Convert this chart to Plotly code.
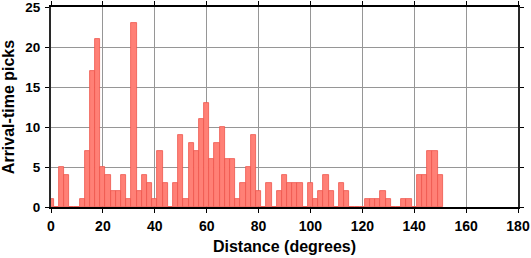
import plotly.graph_objects as go

# Bin centres (degrees, 2-degree bins) and pick counts
centers = list(range(0, 152, 2))
counts = [1, 0, 5, 4, 0, 0, 1, 7, 17, 21,
          5, 4, 2, 2, 4, 1, 23, 2, 4, 3,
          1, 7, 3, 0, 3, 9, 1, 8, 7, 11,
          13, 6, 8, 10, 6, 6, 1, 3, 5, 9,
          2, 0, 3, 0, 2, 4, 3, 3, 3, 0,
          3, 1, 2, 4, 2, 0, 3, 2, 0, 0,
          0, 1, 1, 1, 2, 1, 0, 0, 1, 1,
          0, 4, 4, 7, 7, 4]
x_ticks = [0, 20, 40, 60, 80, 100, 120, 140, 160, 180]
y_ticks = [0, 5, 10, 15, 20, 25]

fig = go.Figure()
fig.add_trace(go.Bar(
    x=centers, y=counts, width=2,
    marker=dict(color="rgb(255,128,118)", line=dict(color="rgb(238,85,75)", width=0.8)),
    showlegend=False,
))

font_bold = "Liberation Sans"
fig.update_layout(
    width=531, height=258,
    margin=dict(l=51, r=13, t=7, b=51),
    paper_bgcolor="white", plot_bgcolor="white",
    bargap=0,
    font=dict(family=font_bold, color="black"),
    xaxis=dict(
        range=[0, 180], tickvals=x_ticks, automargin=False,
        ticklabeloverflow="allow",
        showgrid=True, gridcolor="rgb(150,150,150)", gridwidth=1,
        showline=True, linecolor="black", linewidth=1.5, mirror="allticks",
        ticks="outside", ticklen=4, tickcolor="black", tickwidth=1,
        ticklabelstandoff=1,
        tickfont=dict(size=14, family=font_bold, weight="bold"),
        title=dict(text="<b>Distance (degrees)</b>", font=dict(size=16), standoff=8),
        zeroline=False,
    ),
    yaxis=dict(
        range=[0, 25], tickvals=y_ticks, automargin=False,
        ticklabeloverflow="allow",
        showgrid=True, gridcolor="rgb(150,150,150)", gridwidth=1,
        showline=True, linecolor="rgb(40,40,40)", linewidth=2, mirror="allticks",
        ticks="outside", ticklen=4, tickcolor="black", tickwidth=1,
        ticklabelstandoff=2,
        tickfont=dict(size=13.5, family=font_bold, weight="bold"),
        title=dict(text="<b>Arrival-time picks</b>", font=dict(size=16), standoff=8),
        zeroline=False,
    ),
)

fig.write_html("out.html")
